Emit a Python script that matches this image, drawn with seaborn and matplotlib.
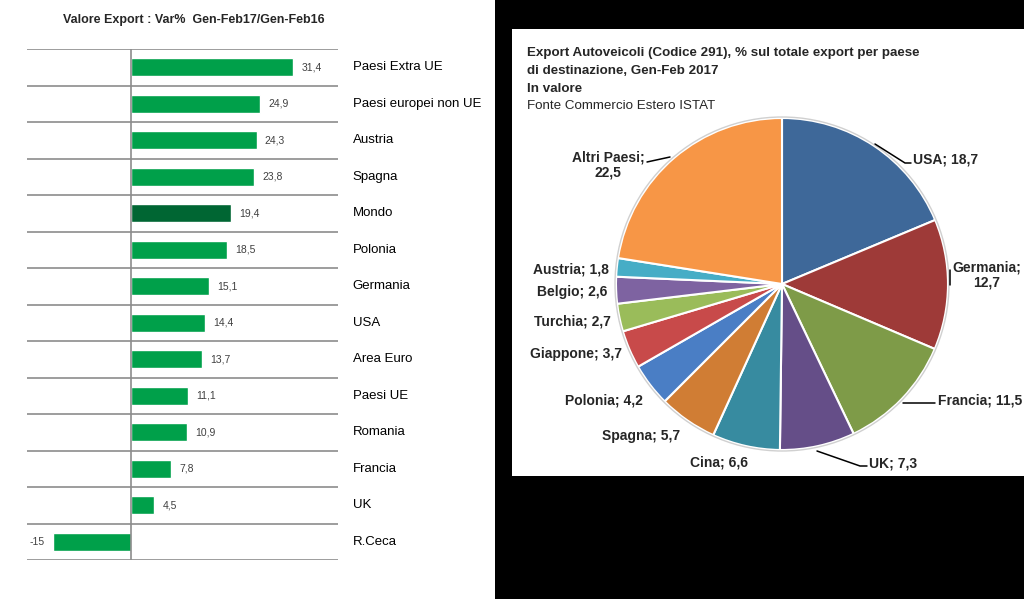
"""
Export: variazione % (barre) e quota autoveicoli per paese (torta)
"""
import matplotlib
matplotlib.use('Agg')
import matplotlib.pyplot as plt
import seaborn as sns
from matplotlib.patches import Rectangle

sns.set_style('white')
plt.rcParams['font.family'] = ['Liberation Sans', 'DejaVu Sans']
NARROW = ['Liberation Sans Narrow', 'Liberation Sans', 'DejaVu Sans']

# dati barre: Var% Gen-Feb17/Gen-Feb16
paesi_bar = ['Paesi Extra UE', 'Paesi europei non UE', 'Austria', 'Spagna', 'Mondo',
             'Polonia', 'Germania', 'USA', 'Area Euro', 'Paesi UE', 'Romania',
             'Francia', 'UK', 'R.Ceca']
var_pct = [31.4, 24.9, 24.3, 23.8, 19.4, 18.5, 15.1, 14.4, 13.7, 11.1, 10.9, 7.8, 4.5, -15]
val_labels = ['31,4', '24,9', '24,3', '23,8', '19,4', '18,5', '15,1', '14,4', '13,7',
              '11,1', '10,9', '7,8', '4,5', '-15']

# dati torta: % sul totale export autoveicoli
paesi_pie = ['USA', 'Germania', 'Francia', 'UK', 'Cina', 'Spagna', 'Polonia',
             'Giappone', 'Turchia', 'Belgio', 'Austria', 'Altri Paesi']
quota = [18.7, 12.7, 11.5, 7.3, 6.6, 5.7, 4.2, 3.7, 2.7, 2.6, 1.8, 22.5]
pie_labels = ['USA; 18,7', 'Germania;\n12,7', 'Francia; 11,5', 'UK; 7,3', 'Cina; 6,6',
              'Spagna; 5,7', 'Polonia; 4,2', 'Giappone; 3,7', 'Turchia; 2,7',
              'Belgio; 2,6', 'Austria; 1,8', 'Altri Paesi;\n22,5']

W, H = 1024, 599
fig = plt.figure(figsize=(W / 100, H / 100), dpi=100)

# sfondo nero a destra + riquadro bianco (dietro agli assi)
fig.patches.append(Rectangle((495 / W, 0), 1 - 495 / W, 1, transform=fig.transFigure,
                             facecolor='black', edgecolor='none', zorder=-2))
fig.patches.append(Rectangle((512 / W, 1 - 476 / H), 1 - 512 / W, (476 - 29) / H,
                             transform=fig.transFigure, facecolor='white',
                             edgecolor='none', zorder=-1))

# ---- barre ----
ax = fig.add_axes([27 / W, 1 - 560 / H, (338 - 27) / W, (560 - 49) / H])
ax.patch.set_alpha(0)
colori = ['#006633' if p == 'Mondo' else '#00A04A' for p in paesi_bar]
sns.barplot(x=var_pct, y=paesi_bar, hue=paesi_bar, palette=colori, orient='h',
            width=0.5, legend=False, saturation=1, ax=ax)
ax.set_xlim(-20, 40)
ax.set_ylim(len(paesi_bar) - 0.5, -0.5)
for i in range(len(paesi_bar) + 1):
    ax.axhline(i - 0.5, color='#8c8c8c', lw=1.2, zorder=0)
ax.axvline(0, color='#8c8c8c', lw=1.2)
for i, (v, lab) in enumerate(zip(var_pct, val_labels)):
    if v >= 0:
        ax.text(v + 1.6, i, lab, va='center', ha='left', fontsize=7.5, color='#404040')
    else:
        ax.text(v - 1.6, i, lab, va='center', ha='right', fontsize=7.5, color='#404040')
    ax.text(42.8, i, paesi_bar[i], va='center', ha='left', fontsize=9.5,
            color='black', clip_on=False)
ax.set_xticks([])
ax.set_yticks([])
ax.set_xlabel('')
ax.set_ylabel('')
sns.despine(ax=ax, left=True, bottom=True)

fig.text(63 / W, 1 - 20 / H, 'Valore Export : Var%  Gen-Feb17/Gen-Feb16',
         ha='left', va='center', fontsize=9, fontweight='bold', family=NARROW)

# ---- torta ----
cx, cy, r = 782, 284, 166
half = 1.45 * r
axp = fig.add_axes([(cx - half) / W, 1 - (cy + half) / H, 2 * half / W, 2 * half / H])
axp.patch.set_alpha(0)
colori_pie = ['#3E6899', '#9E3A38', '#7E9B48', '#654E88', '#378BA0', '#D07D34',
              '#4A7EC5', '#C84A4A', '#9ABC5A', '#7E63A1', '#46ADC6', '#F79646']
axp.pie(quota, colors=colori_pie, startangle=90, counterclock=False, radius=1,
        wedgeprops=dict(edgecolor='white', linewidth=1.5))
# bordo grigio chiaro esterno
axp.add_patch(plt.Circle((0, 0), 1.006, fill=False, edgecolor='#d0d0d0', lw=1))
axp.set_xlim(-1.45, 1.45)
axp.set_ylim(-1.45, 1.45)
axp.set_aspect('equal')
axp.axis('off')


def pos(px, py):
    return (px - cx) / r, (cy - py) / r


# posizioni etichette (pixel) e allineamento
lab_pos = [(913, 159, 'left'), (987, 275, 'center'), (938, 400, 'left'),
           (869, 463, 'left'), (719, 462, 'center'), (680, 436, 'right'),
           (643, 400, 'right'), (622, 354, 'right'), (611, 321, 'right'),
           (607, 292, 'right'), (609, 269, 'right'), (608, 165, 'center')]
for lab, (px, py, ha) in zip(pie_labels, lab_pos):
    x, y = pos(px, py)
    axp.text(x, y, lab, ha=ha, va='center', fontsize=10, fontweight='bold',
             family=NARROW, linespacing=1.15, multialignment='center')

# linee guida
leader = [[(875, 144), (905, 163), (911, 163)],
          [(950, 270), (950, 285)],
          [(903, 403), (935, 403)],
          [(817, 451), (860, 466), (867, 466)],
          [(647, 162), (670, 157)]]
for seg in leader:
    xs, ys = zip(*[pos(px, py) for px, py in seg])
    axp.plot(xs, ys, color='black', lw=1.1, clip_on=False)

titolo = ['Export Autoveicoli (Codice 291), % sul totale export per paese',
          'di destinazione, Gen-Feb 2017', 'In valore']
for k, t in enumerate(titolo):
    fig.text(527 / W, 1 - (53 + 18 * k) / H, t, ha='left', va='center', fontsize=9.6,
             fontweight='bold', family=NARROW)
fig.text(527 / W, 1 - 106 / H, 'Fonte Commercio Estero ISTAT', ha='left', va='center',
         fontsize=9.6, family=NARROW)

fig.savefig('out.png', dpi=100)
